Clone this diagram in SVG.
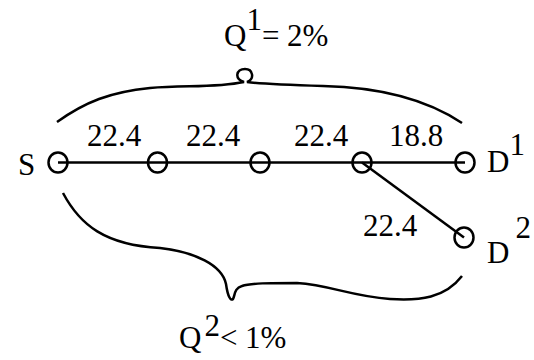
<svg xmlns="http://www.w3.org/2000/svg" width="534" height="360" viewBox="0 0 534 360">
<style>
text{font-family:'Liberation Serif','Times New Roman',Times,serif;font-size:31px;fill:#000}
.n{fill:none;stroke:#000;stroke-width:2.5}
.c{fill:none;stroke:#000;stroke-width:2.5}
.b{fill:none;stroke:#000;stroke-width:2.5;stroke-linecap:butt}
</style>
<rect width="534" height="360" fill="#fff"/>
<g id="connectors">
<line class="c" x1="58" y1="162.5" x2="465" y2="162.5"/>
<line class="c" x1="362" y1="162.5" x2="464" y2="237.5"/>
</g>
<g id="braces">
<path class="b" d="M57,122 C85,102 110,92 150,88 C185,85 215,88 244,82 C234,79 236,69 245,69 C253,69 255,79 247,82 C262,84 290,85 323,86 C370,87 420,95 462,123"/>
<path class="b" d="M63,193 C80,225 105,245 160,248 C195,252 222,265 226,284 C228,298 231,301 233,299 C235,296 234,288 242,286 C250,283 270,283 297,283 C330,285 350,296 390,299 C420,301 445,298 462,276"/>
</g>
<g id="S"><ellipse class="n" cx="58" cy="162.5" rx="9.5" ry="10"/><text x="18" y="175">S</text></g>
<g id="n2"><ellipse class="n" cx="157.5" cy="162.5" rx="9.5" ry="10"/></g>
<g id="n3"><ellipse class="n" cx="260" cy="162.5" rx="9.5" ry="10"/></g>
<g id="n4"><ellipse class="n" cx="362" cy="162.5" rx="9.5" ry="10"/></g>
<g id="D1"><ellipse class="n" cx="465" cy="162.5" rx="9.5" ry="10"/><text x="487" y="172">D<tspan dy="-17">1</tspan></text></g>
<g id="D2"><ellipse class="n" cx="464" cy="237.5" rx="9.5" ry="10"/><text x="487" y="263">D<tspan dx="6" dy="-25">2</tspan></text></g>
<g id="labels">
<text x="87" y="146">22.4</text>
<text x="186" y="146">22.4</text>
<text x="294" y="146">22.4</text>
<text x="389" y="146">18.8</text>
<text x="363" y="236">22.4</text>
</g>
<g id="Q1"><text x="224" y="46">Q<tspan dy="-16">1</tspan><tspan dy="16">= 2%</tspan></text></g>
<g id="Q2"><text x="179" y="348">Q<tspan dx="3" dy="-12">2</tspan><tspan dy="12">&lt; 1%</tspan></text></g>
</svg>
